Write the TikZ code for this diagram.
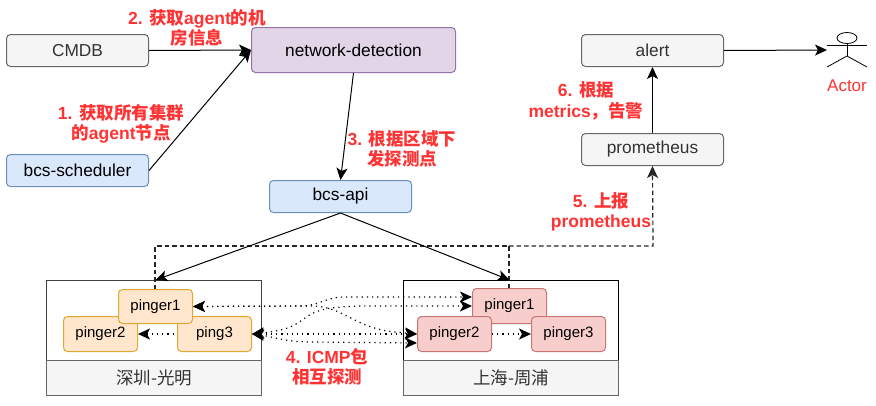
\documentclass[tikz,border=0pt]{standalone}
\usepackage{fontspec}
\setmainfont{Liberation Sans}
\newfontfamily\cjk{Noto Sans CJK SC}
\usetikzlibrary{arrows.meta,shapes.geometric}
\definecolor{redtxt}{HTML}{FF3333}
\definecolor{purplefill}{HTML}{E1D5E7}
\definecolor{purpleline}{HTML}{9673A6}
\definecolor{bluefill}{HTML}{DAE8FC}
\definecolor{blueline}{HTML}{6C8EBF}
\definecolor{orangefill}{HTML}{FFE6CC}
\definecolor{orangeline}{HTML}{E0A830}
\definecolor{pinkfill}{HTML}{F8CECC}
\definecolor{pinkline}{HTML}{B85450}
\definecolor{grayfill}{HTML}{F5F5F5}
\definecolor{grayline}{HTML}{666666}
\definecolor{graytxt}{HTML}{333333}
\tikzset{
  x=1pt,y=-1pt,
  tip/.style={},
  boxbase/.style={draw,rounded corners=4pt,line width=1pt,inner sep=0pt,anchor=north west,text=black},
  graybox/.style={boxbase,draw=grayline,fill=grayfill,text=graytxt,font=\fontsize{17.3}{20}\selectfont},
  purplebox/.style={boxbase,draw=purpleline,fill=purplefill,font=\fontsize{17.3}{20}\selectfont},
  bluebox/.style={boxbase,draw=blueline,fill=bluefill,font=\fontsize{17.3}{20}\selectfont},
  orangebox/.style={boxbase,draw=orangeline,fill=orangefill,font=\fontsize{15}{18}\selectfont},
  pinkbox/.style={boxbase,draw=pinkline!80!white,fill=pinkfill,font=\fontsize{15}{18}\selectfont},
  zonebox/.style={line width=1.2pt,fill=white,anchor=north west,inner sep=0pt},
  zonelabel/.style={draw=grayline,line width=1.2pt,fill=grayfill,text=graytxt,anchor=north west,inner sep=0pt,font=\fontsize{17.5}{20}\selectfont\cjk},
  redlabel/.style={text=redtxt,align=center,inner sep=0pt,font=\fontsize{17.5}{20.5}\selectfont\bfseries},
  arr/.style={-{Stealth[length=12pt,width=11pt,inset=3pt]},line width=1pt,black},
  dsh/.style={line width=1.2pt,dash pattern=on 4.5pt off 3pt,black!85},
  dot/.style={line width=1.2pt,dash pattern=on 1.2pt off 4pt,line cap=butt,black},
  dotarr/.style={dot,{Stealth[length=12pt,width=11pt,inset=3pt]}-{Stealth[length=12pt,width=11pt,inset=3pt]}},
  sz/.style 2 args={minimum width=#1,minimum height=#2},
}
\begin{document}
\begin{tikzpicture}
\useasboundingbox (0,0) rectangle (876,405);
% zones
\node[zonebox,draw=black!75,sz={215pt}{115pt}] (zl) at (46,280) {};
\node[zonebox,draw=black,sz={215pt}{115pt}] (zr) at (403,280) {};
\node[zonelabel,sz={215pt}{35pt}] (zll) at (46,360) {深圳-光明};
\node[zonelabel,sz={215pt}{35pt}] (zrl) at (403,360) {上海-周浦};
% boxes
\node[graybox,sz={142pt}{32pt}] (cmdb) at (6,34) {CMDB};
\node[purplebox,sz={204pt}{45pt}] (nd) at (251,27) {network-detection};
\node[bluebox,sz={142pt}{32pt}] (sch) at (6,154) {bcs-scheduler};
\node[bluebox,sz={142pt}{32pt}] (api) at (269,180) {bcs-api};
\node[graybox,sz={142pt}{32pt}] (alert) at (581,34) {alert};
\node[graybox,sz={142pt}{32pt}] (prom) at (581,133) {prometheus};
\coordinate (bus) at (509,246);
\coordinate (busL) at (155,246);
\coordinate (busR) at (653,246);
% dashed
\coordinate (dl) at (155,289);
\coordinate (dr) at (509,288);
\draw[dsh] (dl) -- (busL) -- (bus);
\draw[dsh] (dr) -- (bus);
\draw[dsh,-{Stealth[length=12pt,width=11pt,inset=3pt]}] (bus) -- (busR) -- (prom.south);
% pingers
\node[orangebox,sz={74pt}{35pt}] (p2l) at (63,316) {pinger2};
\node[orangebox,sz={74pt}{35pt}] (p3l) at (177,316) {ping3};
\node[orangebox,sz={74pt}{34pt}] (p1l) at (118,289) {pinger1};
\node[pinkbox,sz={74pt}{35pt}] (p1r) at (472,288) {pinger1};
\node[pinkbox,sz={74pt}{35pt}] (p2r) at (417,316) {pinger2};
\node[pinkbox,sz={74pt}{35pt}] (p3r) at (531,316) {pinger3};
% connectors
\draw[arr] (cmdb.east) -- (nd.west);
\draw[arr] (sch.east) -- (nd.west);
\draw[arr] (nd.south) -- (api.north);
\draw[arr] (api.south) -- (p1l.north |- zl.north);
\draw[arr] (api.south) -- (p1r.north |- zr.north);
\draw[arr] (prom.north) -- (alert.south);
\coordinate (actarm) at (827,50);
\draw[arr] (alert.east) -- (actarm);
% dotted
\draw[dot,{Stealth[length=12pt,width=11pt,inset=3pt]}-] (p2l.east) -- (p3l.west);
\draw[dot,-{Stealth[length=12pt,width=11pt,inset=3pt]}] (p2r.east) -- (p3r.west);
\draw[dotarr] (p1l.east) -- (300,306) .. controls (320,306) and (325,297) .. (345,297) -- ([yshift=9pt]p1r.west);
\draw[dotarr] (p1l.east) -- (315,306) .. controls (345,308) and (355,328) .. (395,332) -- (p2r.west);
\draw[dotarr] (p3l.east) .. controls (290,330) and (295,325) .. (305,318) .. controls (318,308) and (335,307) .. (360,306) -- (p1r.west);
\draw[dotarr] (p3l.east) -- (p2r.west);
\draw[dotarr] (p3l.east) .. controls (270,336) and (285,342) .. (310,342) -- ([yshift=-9pt]p2r.west);
% actor
\node[draw=black,line width=0.8pt,ellipse,minimum width=20pt,minimum height=11pt,inner sep=0pt] (head) at (847,38) {};
\coordinate (neck) at (847,56);
\draw[line width=0.8pt,black] (head.south) -- (neck);
\coordinate (armL) at (827,45); \coordinate (armR) at (867,45);
\coordinate (legL) at (827,67); \coordinate (legR) at (867,67);
\draw[line width=0.8pt] (armL) -- (armR);
\draw[line width=0.8pt] (legL) -- (neck) -- (legR);
\node[text=redtxt,inner sep=0pt,font=\fontsize{17}{20}\selectfont] (acttxt) at (847,86) {Actor};
% labels
\node[redlabel] (l2) at (197,28) {2. {\cjk 获取}agent{\cjk 的机}\\{\cjk 房信息}};
\node[redlabel] (l1) at (121,124) {1. {\cjk 获取所有集群}\\{\cjk 的}agent{\cjk 节点}};
\node[redlabel] (l3) at (402,149) {3. {\cjk 根据区域下}\\{\cjk 发探测点}};
\node[redlabel] (l4) at (327,367) {4. ICMP{\cjk 包}\\{\cjk 相互探测}};
\node[redlabel] (l5) at (601,212) {5. {\cjk 上报}\\prometheus};
\node[redlabel] (l6) at (586,101) {6. {\cjk 根据}\\metrics{\cjk ，告警}};
\end{tikzpicture}
\end{document}
